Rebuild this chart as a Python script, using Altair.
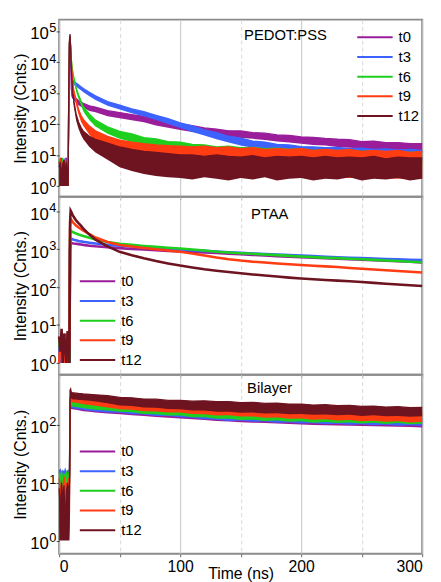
import altair as alt
import pandas as pd

# ---------------- data ----------------
TIME = [0, 1, 2, 3, 4, 5, 6, 7, 7.5, 8, 8.5, 9, 9.5, 10, 11, 12, 14, 16, 18, 20, 25, 30,
        40, 50, 60, 70, 80, 90, 100, 110, 120, 130, 140, 150, 160, 170, 180, 190, 200,
        210, 220, 230, 240, 250, 260, 270, 280, 290, 300]
SERIES = ["t0", "t3", "t6", "t9", "t12"]
COLORS = ["#9a1d9a", "#3d63ff", "#1fcf1f", "#ff3c12", "#6e1320"]

# PEDOT:PSS  (upper / lower edge of the noisy trace)
PEDOT_HI = {
    "t0": [6, 3, 8, 2, 7, 4, 8, 3, 5, 2500, 40000, 65000, 20000, 1300, 920, 800, 660, 560, 505, 465, 385, 350,
           268, 232, 200, 175, 138, 118, 98, 88, 74, 68, 60, 59, 52, 50, 44, 43, 38, 37, 34, 32, 31, 27, 28, 25, 25, 23, 23],
    "t3": [4, 7, 2, 6, 3, 8, 2, 5, 3, 2000, 42000, 68000, 28000, 7000, 2650, 2350, 2100, 1830, 1590, 1390, 1040, 800,
           525, 405, 305, 248, 190, 148, 108, 86, 64, 52, 40, 35, 28, 26, 22, 21, 18.5, 18, 17, 17.5, 16, 16.5, 15, 15.5, 14.5, 15, 14],
    "t6": [7, 2, 5, 8, 3, 6, 2, 7, 4, 1800, 40000, 65000, 32000, 13000, 5600, 3400, 1500, 880, 560, 360, 205, 132,
           80, 57, 48, 36, 33, 27, 26, 22, 21, 18, 19, 17, 17.5, 16, 16.5, 15, 15.5, 14, 14.5, 13.5, 14, 13, 13.5, 12.5, 13, 12, 12.5],
    "t9": [5, 8, 3, 6, 2, 7, 5, 2, 6, 1500, 38000, 62000, 30000, 12000, 3000, 1300, 600, 300, 190, 140, 85, 60,
           40, 30, 26, 23, 21, 20, 19, 18, 19, 17, 18, 16, 17, 15, 16, 15, 16, 14, 15, 14, 15, 13, 14, 13, 14, 12, 13],
    "t12": [4, 6, 2, 5, 7, 3, 6, 2, 4, 3000, 50000, 80000, 25000, 6000, 1400, 600, 210, 115, 78, 58, 40, 32,
            24, 18, 15, 13, 12, 11, 10, 10, 9, 10, 9, 8.5, 9.5, 8, 9, 8.5, 9, 8, 9, 8, 8.5, 8, 9, 7.5, 8.5, 8, 8],
}
PEDOT_LO = {
    "t0": [1, 1, 1, 1, 1, 1, 1, 1, 1, 1, 18000, 40000, 10000, 800, 650, 590, 470, 400, 355, 330, 262, 236,
           178, 152, 131, 113, 89, 75, 63, 55, 47, 41, 38, 35, 33, 30, 27, 25, 23, 21, 20, 18, 17, 16, 15, 14, 13, 12.5, 12],
    "t3": [1, 1, 1, 1, 1, 1, 1, 1, 1, 1, 18000, 40000, 14000, 4500, 2000, 1850, 1620, 1400, 1220, 1050, 780, 590,
           385, 290, 220, 172, 134, 99, 74, 55, 42, 32, 25, 20, 17, 14.5, 13, 11.5, 10.5, 9.5, 9, 8.7, 8.3, 8, 7.8, 7.5, 7.3, 7.2, 7],
    "t6": [1, 1, 1, 1, 1, 1, 1, 1, 1, 1, 17000, 38000, 16000, 9000, 4400, 2600, 1100, 640, 400, 250, 132, 83,
           48, 33, 26, 20, 17, 14.5, 13, 11.5, 10, 9, 8.5, 8, 7.5, 7.2, 7, 6.7, 6.5, 6.2, 6, 5.8, 5.6, 5.4, 5.2, 5, 4.9, 4.8, 4.7],
    "t9": [1, 1, 1, 1, 1, 1, 1, 1, 1, 1, 16000, 36000, 15000, 7000, 2000, 900, 400, 200, 120, 85, 45, 28,
           15, 9, 6, 4.5, 3.5, 3, 2.6, 2.4, 2.2, 2.3, 2.1, 2.2, 2, 2.1, 1.9, 2, 1.9, 2, 1.8, 1.9, 1.8, 1.9, 1.8, 1.8, 1.7, 1.8, 1.7],
    "t12": [1, 1, 1, 1, 1, 1, 1, 1, 1, 1, 20000, 45000, 12000, 3500, 900, 380, 130, 70, 45, 32, 18, 12,
            7, 4, 3, 2.4, 2.1, 1.9, 1.8, 1.6, 1.9, 1.7, 1.5, 1.8, 1.6, 1.9, 1.5, 1.7, 1.8, 1.5, 1.7, 1.6, 1.9, 1.5, 1.7, 1.6, 1.8, 1.5, 1.7],
}

# PTAA (thin traces)
PTAA_VAL = {
    "t0": [3, 1, 5, 2, 4, 1, 6, 2, 1, 3, 1, 900, 1500, 1480, 1450, 1430, 1400, 1370, 1340, 1310, 1250, 1200,
           1130, 1075, 1025, 985, 945, 910, 880, 852, 822, 795, 765, 738, 712, 688, 662, 642, 620, 600, 582, 563, 547, 530, 514, 498, 482, 467, 452],
    "t3": [2, 4, 1, 3, 1, 5, 2, 1, 3, 1, 2, 1100, 1950, 1900, 1840, 1790, 1730, 1670, 1620, 1580, 1500, 1430,
           1320, 1240, 1180, 1120, 1070, 1030, 990, 950, 910, 872, 840, 810, 780, 755, 730, 705, 682, 660, 640, 620, 602, 586, 570, 556, 542, 530, 518],
    "t6": [4, 2, 6, 1, 3, 5, 1, 4, 2, 2, 1, 1800, 3150, 3000, 2880, 2780, 2620, 2470, 2360, 2260, 2020, 1820,
           1560, 1410, 1310, 1230, 1160, 1100, 1050, 985, 935, 865, 825, 792, 762, 732, 702, 672, 645, 622, 602, 585, 565, 545, 526, 507, 490, 472, 456],
    "t9": [1, 3, 2, 5, 1, 4, 2, 6, 1, 2, 3, 3500, 6300, 6000, 5400, 4900, 4250, 3800, 3450, 3100, 2500, 2050,
           1560, 1300, 1180, 1080, 1000, 925, 860, 780, 690, 610, 550, 505, 472, 446, 422, 402, 386, 370, 355, 340, 323, 308, 294, 281, 268, 256, 245],
    "t12": [5, 2, 8, 1, 6, 3, 1, 7, 2, 3, 1, 5000, 10500, 9800, 8300, 7200, 5800, 4900, 4200, 3500, 2450, 1800,
            1200, 860, 700, 580, 490, 425, 372, 332, 298, 272, 252, 234, 217, 203, 191, 179, 169, 162, 155, 149, 143, 137, 130, 124, 118, 112, 107],
}

# Bilayer (upper / lower edge of the noisy trace)
BILAYER_HI = {
    "t0": [15, 16, 14, 16, 15, 16, 14, 15, 16, 15, 14, 250, 238, 235, 233, 231, 228, 225, 222, 219, 213, 207,
           199, 194, 183, 180, 170, 168, 160, 159, 153, 154, 147, 148, 142, 143, 138, 139, 134, 137, 132, 135, 130, 133, 128, 131, 126, 130, 125],
    "t3": [16, 17, 15, 16, 14, 17, 15, 16, 15, 16, 15, 260, 245, 242, 240, 238, 235, 232, 229, 226, 220, 214,
           208, 196, 193, 182, 179, 169, 169, 162, 163, 156, 157, 150, 152, 146, 148, 142, 144, 139, 142, 137, 140, 135, 138, 134, 137, 133, 135],
    "t6": [15, 12, 16, 11, 14, 13, 15, 12, 14, 15, 14, 280, 262, 258, 256, 254, 250, 247, 244, 241, 234, 228,
           222, 210, 205, 193, 190, 180, 180, 173, 174, 168, 168, 161, 162, 156, 158, 152, 154, 149, 152, 147, 150, 145, 149, 144, 148, 143, 146],
    "t9": [12, 6, 11, 4, 13, 8, 10, 5, 12, 11, 10, 300, 330, 320, 316, 314, 310, 306, 302, 298, 290, 282,
           265, 246, 241, 228, 227, 217, 218, 209, 210, 201, 203, 193, 195, 187, 189, 181, 183, 176, 179, 172, 175, 168, 172, 166, 170, 164, 167],
    "t12": [8, 3, 10, 5, 9, 2, 7, 10, 4, 9, 6, 400, 420, 370, 362, 360, 356, 352, 350, 346, 340, 334,
            322, 300, 296, 281, 280, 267, 268, 259, 262, 254, 255, 245, 247, 237, 239, 229, 231, 222, 225, 216, 219, 210, 213, 205, 208, 200, 203],
}
BILAYER_LO = {
    "t0": [9, 10, 9, 10, 9, 11, 10, 9, 10, 9, 9, 10, 192, 190, 188, 186, 183, 180, 177, 174, 169, 164,
           158, 153, 148, 143, 138, 134, 130, 126, 122, 118, 115, 112, 110, 108, 106, 104, 102, 100, 99, 98, 97, 96, 95, 94, 93, 92, 91],
    "t3": [10, 11, 9, 11, 10, 12, 10, 11, 9, 10, 9, 11, 200, 198, 196, 194, 191, 188, 185, 182, 177, 172,
           164, 163, 154, 152, 144, 143, 136, 134, 126, 124, 118, 119, 114, 115, 110, 111, 106, 107, 103, 105, 101, 103, 99, 101, 97, 99, 96],
    "t6": [9, 7, 10, 6, 9, 8, 10, 7, 9, 9, 8, 10, 215, 212, 210, 208, 205, 202, 199, 196, 190, 184,
           178, 170, 167, 156, 154, 146, 146, 137, 136, 128, 129, 122, 124, 118, 120, 114, 116, 110, 113, 108, 111, 106, 109, 104, 108, 103, 105],
    "t9": [2, 1, 3, 1, 4, 1, 2, 1, 3, 2, 1, 3, 255, 250, 248, 246, 242, 238, 234, 230, 222, 215,
           202, 188, 184, 174, 172, 164, 164, 155, 154, 146, 147, 140, 141, 134, 135, 128, 130, 124, 126, 120, 122, 116, 119, 114, 116, 111, 113],
    "t12": [1, 1, 1, 1, 1, 1, 1, 1, 1, 1, 1, 3, 300, 285, 280, 278, 276, 272, 270, 268, 262, 256,
            238, 218, 214, 202, 200, 190, 188, 178, 178, 170, 170, 163, 164, 158, 160, 154, 156, 150, 152, 147, 150, 144, 147, 142, 144, 139, 142],
}

X_TICKS = [0, 50, 100, 150, 200, 250, 300]
TOP_EXP = [0, 1, 2, 3, 4, 5]
MID_EXP = [0, 1, 2, 3, 4]
BOT_EXP = [0, 1, 2]
FONT = "Liberation Sans"
W = 369


def long_frame(hi, lo=None):
    rows = []
    for s in SERIES:
        for i, t in enumerate(TIME):
            rows.append({"time": t, "series": s, "hi": hi[s][i],
                         "lo": lo[s][i] if lo is not None else hi[s][i]})
    return pd.DataFrame(rows)


GRID_COLOR = {"condition": {"test": "datum.value % 100 === 0", "value": "#c4c4c4"}, "value": "#d8d8d8"}
GRID_DASH = {"condition": {"test": "datum.value % 100 === 0", "value": []}, "value": [4, 3]}


def panel(df, height, ydomain, exps, label, label_x, label_y, leg_x, leg_y, row_h, bottom, band, line_w):
    xkw = dict(values=X_TICKS, grid=True, gridColor=GRID_COLOR, gridDash=GRID_DASH, domain=False,
               tickSize=3, tickColor="#666666", labelFontSize=16, labelColor="black", labelPadding=2,
               labelExpr="datum.value % 100 == 0 ? datum.label : ''")
    if bottom:
        xkw.update(title="Time (ns)", titleFontSize=16, titleFontWeight="normal", titleColor="black", titlePadding=-9)
    else:
        xkw.update(title=None, labels=False)
    xenc = alt.X("time:Q", scale=alt.Scale(domain=[0, 300], nice=False, zero=False), axis=alt.Axis(**xkw))
    ys = alt.Scale(type="log", domain=ydomain, nice=False)
    yticks = [10 ** e for e in exps]
    yax = alt.Axis(values=yticks, grid=False, domain=False, tickSize=3, tickColor="#444444",
                   labelFontSize=17, labelColor="black", labelPadding=8, labelOffset=3,
                   labelExpr="'10'",
                   title="Intensity (Cnts.)", titleFontSize=16, titleFontWeight="normal",
                   titleColor="black", titlePadding=1)
    leg = alt.Legend(title=None, orient="none", legendX=leg_x, legendY=leg_y, symbolType="stroke",
                     symbolSize=1296, symbolStrokeWidth=2, clipHeight=row_h, rowPadding=0,
                     labelFontSize=15, labelColor="black", labelOffset=5, padding=0)
    cs = alt.Scale(domain=SERIES, range=COLORS)
    layers = []
    for s, c in zip(SERIES, COLORS):
        sub = alt.Chart(df[df["series"] == s])
        if band:
            layers.append(sub.mark_area(color=c, opacity=1).encode(
                x=xenc, y=alt.Y("lo:Q", scale=ys, axis=yax), y2="hi:Q"))
        layers.append(sub.mark_line(strokeWidth=line_w).encode(
            x=xenc, y=alt.Y("hi:Q", scale=ys, axis=yax),
            stroke=alt.Stroke("series:N", scale=cs, legend=leg)))
    txt = alt.Chart(pd.DataFrame({"txt": [label]})).mark_text(
        align="left", baseline="alphabetic", fontSize=15, color="black").encode(
        x=alt.datum(label_x), y=alt.datum(label_y), text="txt:N")
    layers.append(txt)
    # superscript exponents of the decade labels
    sup = alt.Chart(pd.DataFrame({"e": [str(e) for e in exps], "v": yticks})).mark_text(
        align="left", baseline="middle", fontSize=13, color="black", dy=-3).encode(
        x=alt.value(-10), y=alt.Y("v:Q", scale=ys, axis=yax), text="e:N")
    layers.append(sup)
    return alt.layer(*layers).properties(width=W, height=height)


top = panel(long_frame(PEDOT_HI, PEDOT_LO), 180, [0.448, 2.32e5], TOP_EXP,
            "PEDOT:PSS", 152.8, 5.2e4, 302, 8.35, 19.3, False, True, 1.3)
mid = panel(long_frame(PTAA_VAL), 181, [0.488, 2.45e4], MID_EXP,
            "PTAA", 158.5, 6200, 20, 76.4, 19.25, False, False, 2.6)
bot = panel(long_frame(BILAYER_HI, BILAYER_LO), 182, [0.589, 742], BOT_EXP,
            "Bilayer", 155.3, 354, 20, 68.1, 19.75, True, True, 1.3)

chart = alt.vconcat(top, mid, bot, spacing=0, bounds="flush").resolve_scale(
    y="independent", stroke="independent").resolve_legend(stroke="independent").properties(
    padding={"left": 4, "top": 6, "right": 4, "bottom": 4}).configure(font=FONT).configure_view(
    stroke="#8c8c8c", strokeWidth=2)

chart.save("out.html", embed_options={"renderer": "svg", "actions": False})
